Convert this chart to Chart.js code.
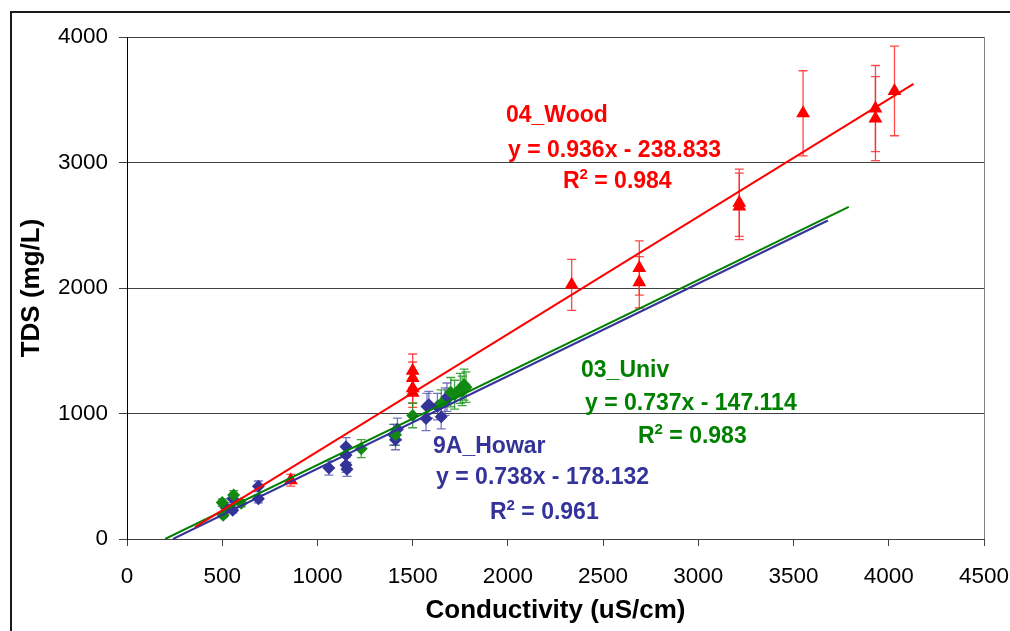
<!DOCTYPE html>
<html>
<head>
<meta charset="utf-8">
<script src="https://cdn.jsdelivr.net/npm/chart.js@4.4.1/dist/chart.umd.min.js"></script>
<style>
  html, body { margin: 0; padding: 0; background: #ffffff; }
  #wrap { width: 1010px; height: 631px; position: relative; }
</style>
</head>
<body>
<div id="wrap"><canvas id="c" width="1010" height="631"></canvas></div>
<script>
// ---- Measured samples: conductivity (uS/cm) vs TDS (mg/L) ----
const woodCond = [860, 1500, 1500, 1500, 1500, 2335, 2690, 2690, 3215, 3215, 3550, 3930, 3930, 4030];
const woodTds  = [468, 1340, 1282, 1201, 1166, 2025, 2160, 2045, 2680, 2650, 3392, 3430, 3350, 3570];

const univCond = [500, 505, 560, 600, 1230, 1410, 1500, 1650, 1700, 1720, 1750, 1760, 1770, 1780];
const univTds  = [290, 190, 350, 285, 720, 830, 985, 1080, 1170, 1150, 1200, 1180, 1230, 1210];

const howarCond = [520, 555, 555, 690, 690, 1060, 1150, 1150, 1150, 1155, 1400, 1410, 1420, 1570, 1575, 1585, 1630, 1650, 1670, 1680];
const howarTds  = [250, 320, 230, 420, 320, 565, 735, 670, 590, 555, 830, 790, 875, 960, 1055, 1070, 1055, 975, 1095, 1130];

// ---- Linear fits (slope, intercept, R²) and the x-span each fit line covers ----
const woodFit  = { slope: 0.936, intercept: -238.833, r2: '0.984' };
const univFit  = { slope: 0.737, intercept: -147.114, r2: '0.983' };
const howarFit = { slope: 0.738, intercept: -178.132, r2: '0.961' };
const woodFitSpan  = [357, 4130];
const univFitSpan  = [200, 3790];
const howarFitSpan = [241.4, 3680];

// ---- Axis ticks ----
const xTicks = [0, 500, 1000, 1500, 2000, 2500, 3000, 3500, 4000, 4500];
const yTicks = [0, 1000, 2000, 3000, 4000];

// relative measurement uncertainty shown as error bars
const ERROR_FRACTION = 0.10;

const FONT = "'Liberation Sans', Arial, Helvetica, sans-serif";
const RED = '#ff0000', GREEN = '#008000', BLUE = '#333399';

const toPoints = (xs, ys) => xs.map((v, i) => ({ x: v, y: ys[i] }));
const fitLine = (fit, span) => span.map(v => ({ x: v, y: fit.slope * v + fit.intercept }));
const fmtCoef = (fit) => 'y = ' + fit.slope.toFixed(3) + 'x - ' + Math.abs(fit.intercept).toFixed(3);

// Error bars (±ERROR_FRACTION of each TDS value) drawn under the markers
const errorBars = {
  id: 'errorBars',
  beforeDatasetsDraw(chart) {
    const { ctx, chartArea: a, scales: { x, y } } = chart;
    const cap = 4.5;
    ctx.save();
    ctx.beginPath();
    ctx.rect(a.left, a.top, a.right - a.left, a.bottom - a.top);
    ctx.clip();
    chart.data.datasets.forEach(ds => {
      if (!ds.errColor) return;
      ctx.strokeStyle = ds.errColor;
      ctx.lineWidth = 1.3;
      ds.data.forEach(p => {
        const px = x.getPixelForValue(p.x);
        const hi = y.getPixelForValue(p.y * (1 + ERROR_FRACTION));
        const lo = y.getPixelForValue(p.y * (1 - ERROR_FRACTION));
        ctx.beginPath();
        ctx.moveTo(px, hi); ctx.lineTo(px, lo);
        ctx.moveTo(px - cap, hi); ctx.lineTo(px + cap, hi);
        ctx.moveTo(px - cap, lo); ctx.lineTo(px + cap, lo);
        ctx.stroke();
      });
    });
    ctx.restore();
  }
};

// Outer chart frame and right edge of the plot area
const frame = {
  id: 'frame',
  afterDraw(chart) {
    const { ctx, chartArea: a } = chart;
    ctx.save();
    ctx.strokeStyle = '#808080';
    ctx.lineWidth = 1;
    ctx.beginPath();
    ctx.moveTo(Math.round(a.right) + 0.5, a.top);
    ctx.lineTo(Math.round(a.right) + 0.5, a.bottom);
    ctx.stroke();
    ctx.strokeStyle = '#1a1a1a';
    ctx.lineWidth = 2;
    ctx.strokeRect(11, 12, 1200, 1000);
    ctx.restore();
  }
};

// Series names, fit equations and R² placed in data coordinates
const fitLabels = [
  { color: RED,   name: '04_Wood',  fit: woodFit,  nameAt: [1990, 3323], eqAt: [2001, 3041], r2At: [2289, 2794] },
  { color: GREEN, name: '03_Univ',  fit: univFit,  nameAt: [2384, 1291], eqAt: [2405, 1028], r2At: [2683, 765] },
  { color: BLUE,  name: '9A_Howar', fit: howarFit, nameAt: [1607, 685],  eqAt: [1623, 438],  r2At: [1906, 159] }
];

const annotations = {
  id: 'annotations',
  afterDraw(chart) {
    const { ctx, scales: { x, y } } = chart;
    const big = "bold 23px " + FONT;
    const small = "bold 15px " + FONT;
    ctx.save();
    ctx.textAlign = 'left';
    ctx.textBaseline = 'alphabetic';
    fitLabels.forEach(l => {
      ctx.fillStyle = l.color;
      ctx.font = big;
      ctx.fillText(l.name, x.getPixelForValue(l.nameAt[0]), y.getPixelForValue(l.nameAt[1]));
      ctx.fillText(fmtCoef(l.fit), x.getPixelForValue(l.eqAt[0]), y.getPixelForValue(l.eqAt[1]));
      let px = x.getPixelForValue(l.r2At[0]);
      const py = y.getPixelForValue(l.r2At[1]);
      ctx.fillText('R', px, py);
      px += ctx.measureText('R').width;
      ctx.font = small;
      ctx.fillText('2', px, py - 9);
      px += ctx.measureText('2').width;
      ctx.font = big;
      ctx.fillText(' = ' + l.fit.r2, px, py);
    });
    ctx.restore();
  }
};

const chart = new Chart(document.getElementById('c'), {
  type: 'scatter',
  data: {
    datasets: [
      { label: '04_Wood fit', type: 'line', data: fitLine(woodFit, woodFitSpan), borderColor: RED, borderWidth: 2, pointRadius: 0, fill: false, order: 0 },
      { label: '03_Univ fit', type: 'line', data: fitLine(univFit, univFitSpan), borderColor: GREEN, borderWidth: 2, pointRadius: 0, fill: false, order: 1 },
      { label: '9A_Howar fit', type: 'line', data: fitLine(howarFit, howarFitSpan), borderColor: BLUE, borderWidth: 2, pointRadius: 0, fill: false, order: 2 },
      { label: '04_Wood', data: toPoints(woodCond, woodTds), pointStyle: 'triangle', pointRadius: 8, backgroundColor: RED, borderColor: RED, borderWidth: 0, errColor: 'rgba(255,40,40,0.85)', order: 3 },
      { label: '03_Univ', data: toPoints(univCond, univTds), pointStyle: 'rectRot', pointRadius: 6.5, backgroundColor: '#128a12', borderColor: '#128a12', borderWidth: 0, errColor: 'rgba(30,150,30,0.85)', order: 4 },
      { label: '9A_Howar', data: toPoints(howarCond, howarTds), pointStyle: 'rectRot', pointRadius: 6.5, backgroundColor: BLUE, borderColor: BLUE, borderWidth: 0, errColor: 'rgba(80,80,175,0.8)', order: 5 }
    ]
  },
  options: {
    responsive: false,
    animation: false,
    devicePixelRatio: 1,
    layout: { padding: { left: 10, right: 26, top: 37, bottom: 0 } },
    plugins: { legend: { display: false }, tooltip: { enabled: false } },
    scales: {
      x: {
        type: 'linear',
        min: xTicks[0], max: xTicks[xTicks.length - 1],
        afterBuildTicks: s => { s.ticks = xTicks.map(v => ({ value: v })); },
        ticks: { color: '#000', font: { family: FONT, size: 22.5 }, padding: 17, maxRotation: 0, autoSkip: false, callback: v => String(v) },
        grid: { drawOnChartArea: false, drawTicks: true, tickLength: 7, color: '#404040' },
        border: { color: '#404040', width: 1 },
        title: { display: true, text: 'Conductivity (uS/cm)', color: '#000', font: { family: FONT, size: 26, weight: 'bold' }, padding: { top: 0, bottom: 5 } },
        afterFit: s => { s.height = 92; s.paddingLeft = 0; s.paddingRight = 0; }
      },
      y: {
        type: 'linear',
        min: yTicks[0], max: yTicks[yTicks.length - 1],
        afterBuildTicks: s => { s.ticks = yTicks.map(v => ({ value: v })); },
        ticks: { color: '#000', font: { family: FONT, size: 22.5 }, padding: 11, callback: v => String(v) },
        grid: { color: '#404040', drawTicks: true, tickLength: 8 },
        border: { color: '#000', width: 1 },
        title: { display: true, text: 'TDS (mg/L)', color: '#000', font: { family: FONT, size: 26, weight: 'bold' }, padding: { top: 6, bottom: 0 } },
        afterFit: s => { s.width = 117; s.paddingTop = 0; s.paddingBottom = 0; }
      }
    }
  },
  plugins: [errorBars, annotations, frame]
});
</script>
</body>
</html>
